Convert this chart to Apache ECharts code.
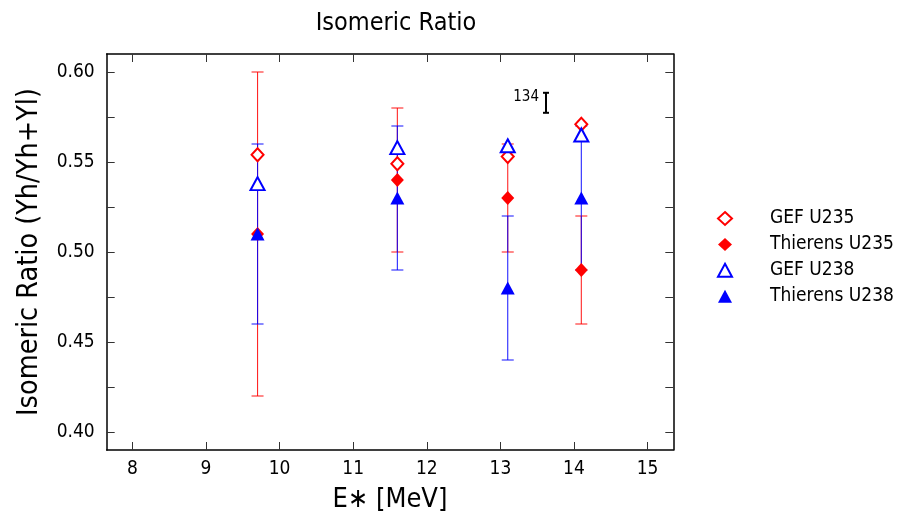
<!DOCTYPE html>
<html>
<head>
<meta charset="utf-8">
<script src="https://cdn.jsdelivr.net/npm/echarts@6/dist/echarts.min.js"></script>
<style>html,body{margin:0;padding:0;background:#fff}#c{width:899px;height:519px}</style>
</head>
<body>
<div id="c"></div>
<script>
const energies = [9.7, 11.6, 13.1, 14.1];
const gefU235 = [0.554, 0.549, 0.553, 0.571];
const thierensU235 = [0.51, 0.54, 0.53, 0.49];
const thierensU235Err = [0.09, 0.04, 0.03, 0.03];
const gefU238 = [0.538, 0.558, 0.559, 0.565];
const thierensU238 = [0.51, 0.53, 0.48, 0.53];
const thierensU238Err = [0.05, 0.04, 0.04, 0.04];
const seriesNames = ['GEF U235', 'Thierens U235', 'GEF U238', 'Thierens U238'];
const xTicks = [8, 9, 10, 11, 12, 13, 14, 15];
const yTicks = [0.400, 0.425, 0.450, 0.475, 0.500, 0.525, 0.550, 0.575, 0.600];
const yTickLabels = [0.40, 0.45, 0.50, 0.55, 0.60];
const annotation = {x: 13.62, y: 0.584, text: '134'};

const FONT = '"Liberation Sans Narrow", "DejaVu Sans Condensed", "DejaVu Sans", sans-serif';
const RED = '#ff0000', BLUE = '#0000ff';

function pairs(xs, ys) { return xs.map((x, i) => [x, ys[i]]); }
function errData(xs, ys, es) { return xs.map((x, i) => [x, ys[i] - es[i], ys[i] + es[i]]); }

function errorRender(color) {
  return function (params, api) {
    const lo = api.coord([api.value(0), api.value(1)]);
    const hi = api.coord([api.value(0), api.value(2)]);
    const hw = 6;
    const st = {stroke: color, lineWidth: 1.1, opacity: 0.85};
    return {type: 'group', children: [
      {type: 'line', shape: {x1: lo[0], y1: lo[1], x2: hi[0], y2: hi[1]}, style: st},
      {type: 'line', shape: {x1: lo[0] - hw, y1: lo[1], x2: lo[0] + hw, y2: lo[1]}, style: st},
      {type: 'line', shape: {x1: hi[0] - hw, y1: hi[1], x2: hi[0] + hw, y2: hi[1]}, style: st}
    ]};
  };
}

const chart = echarts.init(document.getElementById('c'));
const axisCommon = {
  type: 'value',
  axisLine: {show: true, onZero: false, lineStyle: {color: '#000', width: 1.5}},
  splitLine: {show: false}
};
const tickStyle = {show: true, inside: true, length: 8, lineStyle: {color: '#333', width: 1}};
chart.setOption({
  animation: false,
  backgroundColor: '#fff',
  title: {text: 'Isomeric Ratio', left: 391, textAlign: 'center', top: 6,
    textStyle: {fontFamily: FONT, fontSize: 25, fontWeight: 'normal', color: '#000'}},
  grid: {left: 106.7, right: 225.7, top: 54, bottom: 69, containLabel: false},
  legend: {
    orient: 'vertical', left: 712, top: 204, itemWidth: 14, itemHeight: 13, itemGap: 6.9,
    symbolKeepAspect: true,
    textStyle: {fontFamily: FONT, fontSize: 19, color: '#000', lineHeight: 14, padding: [0, 0, 0, 33]},
    data: [
      {name: seriesNames[0], icon: 'emptyDiamond'},
      {name: seriesNames[1], icon: 'diamond'},
      {name: seriesNames[2], icon: 'emptyTriangle'},
      {name: seriesNames[3], icon: 'triangle'}
    ]
  },
  xAxis: [
    Object.assign({}, axisCommon, {min: 7.65, max: 15.35, position: 'bottom',
      name: 'E\u2217 [MeV]', nameLocation: 'middle', nameGap: 36,
      nameTextStyle: {fontFamily: FONT, fontSize: 27, color: '#000'},
      axisTick: Object.assign({customValues: xTicks}, tickStyle),
      axisLabel: {customValues: xTicks, fontFamily: FONT, fontSize: 19, color: '#000', margin: 10}}),
    Object.assign({}, axisCommon, {min: 7.65, max: 15.35, position: 'top',
      axisTick: Object.assign({customValues: xTicks}, tickStyle),
      axisLabel: {show: false}})
  ],
  yAxis: [
    Object.assign({}, axisCommon, {min: 0.39, max: 0.61, position: 'left',
      name: 'Isomeric Ratio (Yh/Yh+Yl)', nameLocation: 'middle', nameGap: 63,
      nameTextStyle: {fontFamily: FONT, fontSize: 28.5, color: '#000'},
      axisTick: Object.assign({customValues: yTicks}, tickStyle),
      axisLabel: {customValues: yTickLabels, fontFamily: FONT, fontSize: 19, color: '#000', margin: 12,
        formatter: function (v) { return v.toFixed(2); }}}),
    Object.assign({}, axisCommon, {min: 0.39, max: 0.61, position: 'right',
      axisTick: Object.assign({customValues: yTicks}, tickStyle),
      axisLabel: {show: false}})
  ],
  series: [
    {type: 'custom', name: 'errU235', xAxisIndex: 0, yAxisIndex: 0, renderItem: errorRender(RED),
      data: errData(energies, thierensU235, thierensU235Err), encode: {x: 0, y: [1, 2]}, z: 1, silent: true},
    {type: 'custom', name: 'errU238', xAxisIndex: 0, yAxisIndex: 0, renderItem: errorRender(BLUE),
      data: errData(energies, thierensU238, thierensU238Err), encode: {x: 0, y: [1, 2]}, z: 1, silent: true},
    {type: 'scatter', name: seriesNames[1], symbol: 'diamond', symbolSize: [13, 14],
      itemStyle: {color: RED, opacity: 1}, data: pairs(energies, thierensU235), z: 3},
    {type: 'scatter', name: seriesNames[3], symbol: 'triangle', symbolSize: [14, 13],
      itemStyle: {color: BLUE, opacity: 1}, data: pairs(energies, thierensU238), z: 4},
    {type: 'scatter', name: seriesNames[0], symbol: 'emptyDiamond', symbolSize: [12, 13],
      itemStyle: {color: RED, borderWidth: 1.6, opacity: 1}, data: pairs(energies, gefU235), z: 5},
    {type: 'scatter', name: seriesNames[2], symbol: 'emptyTriangle', symbolSize: [14, 13],
      itemStyle: {color: BLUE, borderWidth: 1.6, opacity: 1}, data: pairs(energies, gefU238), z: 6},
    {type: 'custom', name: 'annotation', silent: true, z: 7,
      data: [[annotation.x, annotation.y]],
      renderItem: function (params, api) {
        const p = api.coord([api.value(0), api.value(1)]);
        const st = {stroke: '#000', lineWidth: 2};
        return {type: 'group', children: [
          {type: 'line', shape: {x1: p[0], y1: p[1] - 8, x2: p[0], y2: p[1] + 12}, style: st},
          {type: 'line', shape: {x1: p[0] - 3, y1: p[1] - 8, x2: p[0] + 3, y2: p[1] - 8}, style: st},
          {type: 'line', shape: {x1: p[0] - 3, y1: p[1] + 12, x2: p[0] + 3, y2: p[1] + 12}, style: st},
          {type: 'text', style: {text: annotation.text, x: p[0] - 7, y: p[1] - 4, align: 'right',
            verticalAlign: 'middle', fontFamily: FONT, fontSize: 15, fill: '#000'}}
        ]};
      }}
  ]
});
</script>
</body>
</html>
